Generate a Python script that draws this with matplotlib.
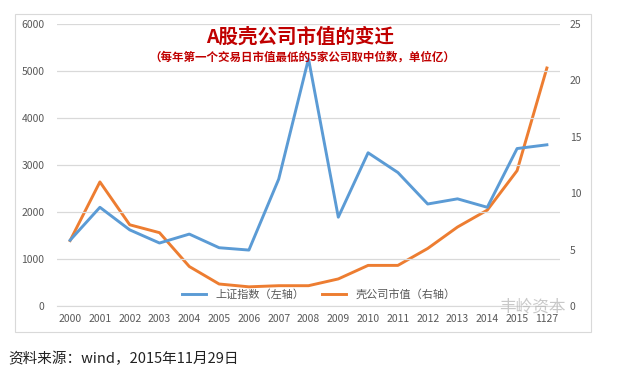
import matplotlib.pyplot as plt
from matplotlib.patches import Rectangle

plt.rcParams['font.family'] = ['Noto Sans CJK SC', 'DejaVu Sans']

years = ["2000", "2001", "2002", "2003", "2004", "2005", "2006", "2007", "2008",
         "2009", "2010", "2011", "2012", "2013", "2014", "2015", "1127"]
sh_index = [1400, 2100, 1620, 1340, 1530, 1240, 1190, 2700, 5260,
            1890, 3260, 2840, 2170, 2280, 2100, 3350, 3430]
shell_cap = [5.8, 11.0, 7.2, 6.5, 3.5, 1.95, 1.7, 1.8, 1.8,
             2.4, 3.6, 3.6, 5.1, 7.0, 8.5, 12.0, 21.1]

blue = "#5B9BD5"
orange = "#ED7D31"
tick_c = "#595959"
grid_c = "#D9D9D9"

fig = plt.figure(figsize=(6.36, 3.66), dpi=100)
W, H = 636, 366

# outer chart frame
fig.patches.append(Rectangle((15 / W, 1 - 332 / H), 576 / W, 318 / H,
                             transform=fig.transFigure, fill=False,
                             edgecolor="#D9D9D9", lw=0.8))

ax = fig.add_axes([57 / W, 1 - 306 / H, 503 / W, 282 / H])
ax2 = ax.twinx()
x = list(range(len(years)))

l1, = ax.plot(x, sh_index, color=blue, lw=2.1, label="上证指数（左轴）")
l2, = ax2.plot(x, shell_cap, color=orange, lw=2.1, label="壳公司市值（右轴）")

ax.set_ylim(0, 6000)
ax.set_yticks(range(0, 6001, 1000))
ax2.set_ylim(0, 25)
ax2.set_yticks(range(0, 26, 5))
ax.set_xlim(-0.44, 16.44)
ax.set_xticks(x)
ax.set_xticklabels(years)
ax.grid(axis="y", color=grid_c, lw=0.9)
ax.set_axisbelow(True)
for a in (ax, ax2):
    for s in a.spines.values():
        s.set_visible(False)
    a.tick_params(length=0, labelsize=7.5, colors=tick_c)
ax.spines["bottom"].set_visible(True)
ax.spines["bottom"].set_color(grid_c)
ax.tick_params(axis="y", pad=9)
ax2.tick_params(axis="y", pad=7)
ax.tick_params(axis="x", pad=6)
ax.set_zorder(ax2.get_zorder() + 1)
ax.patch.set_visible(False)

ax.legend(handles=[l1, l2], loc="lower center", bbox_to_anchor=(0.52, -0.015),
          ncol=2, frameon=False, fontsize=8, labelcolor=tick_c,
          handlelength=2.2, columnspacing=1.6)

fig.text(300 / W, 1 - 37 / H, "A股壳公司市值的变迁", ha="center", va="center",
         color="#C00000", fontsize=14, fontweight="bold")
fig.text(302 / W, 1 - 57 / H, "（每年第一个交易日市值最低的5家公司取中位数，单位亿）",
         ha="center", va="center", color="#C00000", fontsize=8.3, fontweight="bold")
fig.text(8 / W, 1 - 359 / H, "资料来源：wind，2015年11月29日", ha="left", va="center",
         color="#222222", fontsize=10.5)
fig.text(532 / W, 1 - 307 / H, "丰岭资本", ha="center", va="center",
         color="#BBBBBB", fontsize=12, alpha=0.8)

fig.savefig("out.png", dpi=100)
